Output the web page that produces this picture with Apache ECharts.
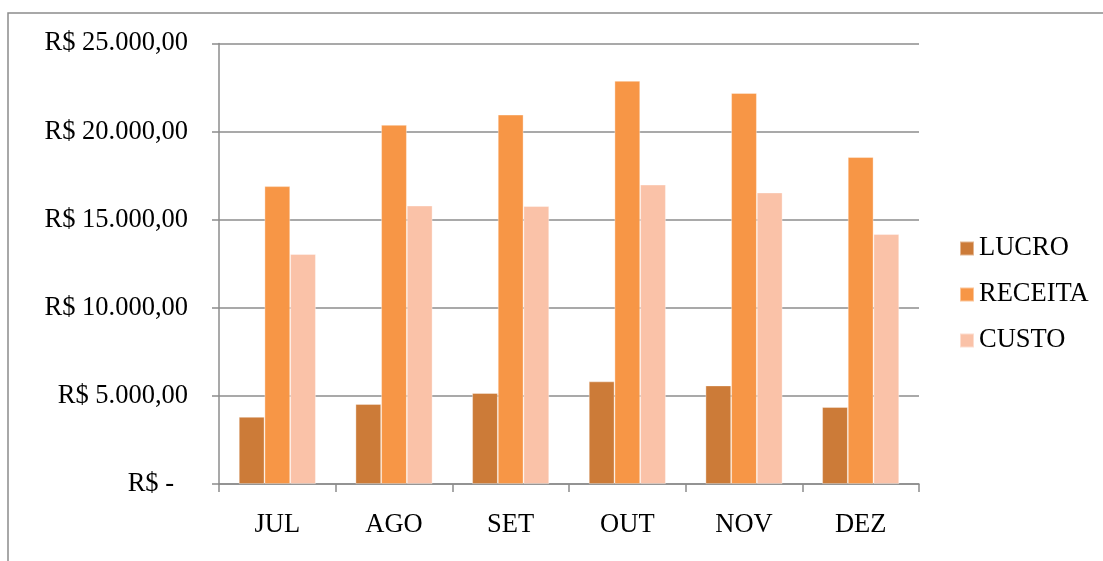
<!DOCTYPE html>
<html>
<head>
<meta charset="utf-8">
<script src="https://cdn.jsdelivr.net/npm/echarts@6/dist/echarts.min.js"></script>
<style>
  html, body { margin: 0; padding: 0; background: #ffffff; }
  #chart { width: 1103px; height: 561px; }
</style>
</head>
<body>
<div id="chart"></div>
<script>
// Monthly figures, second half of the year (R$)
const meses = ['JUL', 'AGO', 'SET', 'OUT', 'NOV', 'DEZ'];
const lucro   = [3810, 4540, 5160, 5820, 5590, 4370];
const receita = [16900, 20380, 20960, 22880, 22190, 18550];
const custo   = [13050, 15800, 15770, 16990, 16540, 14180];

const FONT = '"Liberation Serif", "Times New Roman", serif';
const FONT_SIZE = 26.5;
const GRID_COLOR = '#8c8c8c';

// Brazilian currency style: R$ 25.000,00 ; zero shown as "R$ -"
function formatBRL(v) {
  if (v === 0) return '{z|R$ -}';
  const inteiro = Math.round(v).toString().replace(/\B(?=(\d{3})+(?!\d))/g, '.');
  return 'R$ ' + inteiro + ',00';
}

const chart = echarts.init(document.getElementById('chart'), null, { renderer: 'canvas' });

chart.setOption({
  backgroundColor: '#ffffff',
  animation: false,
  textStyle: { fontFamily: FONT, color: '#000000' },
  graphic: [{
    type: 'rect',
    z: -10,
    shape: { x: 8, y: 13, width: 1200, height: 600 },
    style: { fill: 'none', stroke: GRID_COLOR, lineWidth: 1.5 }
  }],
  grid: { left: 219, right: 184, top: 43.5, bottom: 77, containLabel: false },
  legend: {
    orient: 'vertical',
    left: 954,
    top: 230,
    itemWidth: 14,
    itemHeight: 14,
    itemGap: 19,
    icon: 'rect',
    textStyle: { fontFamily: FONT, fontSize: FONT_SIZE, color: '#000000', lineHeight: 26 },
    data: ['LUCRO', 'RECEITA', 'CUSTO']
  },
  xAxis: {
    type: 'category',
    data: meses,
    boundaryGap: true,
    axisLine: { show: true, lineStyle: { color: GRID_COLOR, width: 1.5 } },
    axisTick: { show: true, length: 8, alignWithLabel: false, lineStyle: { color: GRID_COLOR, width: 1.5 } },
    axisLabel: { fontFamily: FONT, fontSize: FONT_SIZE, color: '#000000', margin: 28 }
  },
  yAxis: {
    type: 'value',
    min: 0,
    max: 25000,
    interval: 5000,
    axisLine: { show: true, lineStyle: { color: GRID_COLOR, width: 1.5 } },
    axisTick: { show: true, length: 7, lineStyle: { color: GRID_COLOR, width: 1.5 } },
    splitLine: { show: true, lineStyle: { color: GRID_COLOR, width: 1.5 } },
    axisLabel: {
      fontFamily: FONT, fontSize: FONT_SIZE, color: '#000000', margin: 31,
      formatter: formatBRL,
      rich: { z: { fontFamily: FONT, fontSize: FONT_SIZE, color: '#000000', padding: [0, 14, 0, 0] } }
    }
  },
  series: [
    {
      name: 'LUCRO', type: 'bar', data: lucro,
      barGap: '0%', barCategoryGap: '34%',
      itemStyle: { color: '#cc7b38', borderColor: 'rgba(255,255,255,0.45)', borderWidth: 0.8 }
    },
    {
      name: 'RECEITA', type: 'bar', data: receita,
      barGap: '0%', barCategoryGap: '34%',
      itemStyle: { color: '#f79646', borderColor: 'rgba(255,255,255,0.45)', borderWidth: 0.8 }
    },
    {
      name: 'CUSTO', type: 'bar', data: custo,
      barGap: '0%', barCategoryGap: '34%',
      itemStyle: { color: '#fac2a8', borderColor: 'rgba(255,255,255,0.45)', borderWidth: 0.8 }
    }
  ]
});
</script>
</body>
</html>
